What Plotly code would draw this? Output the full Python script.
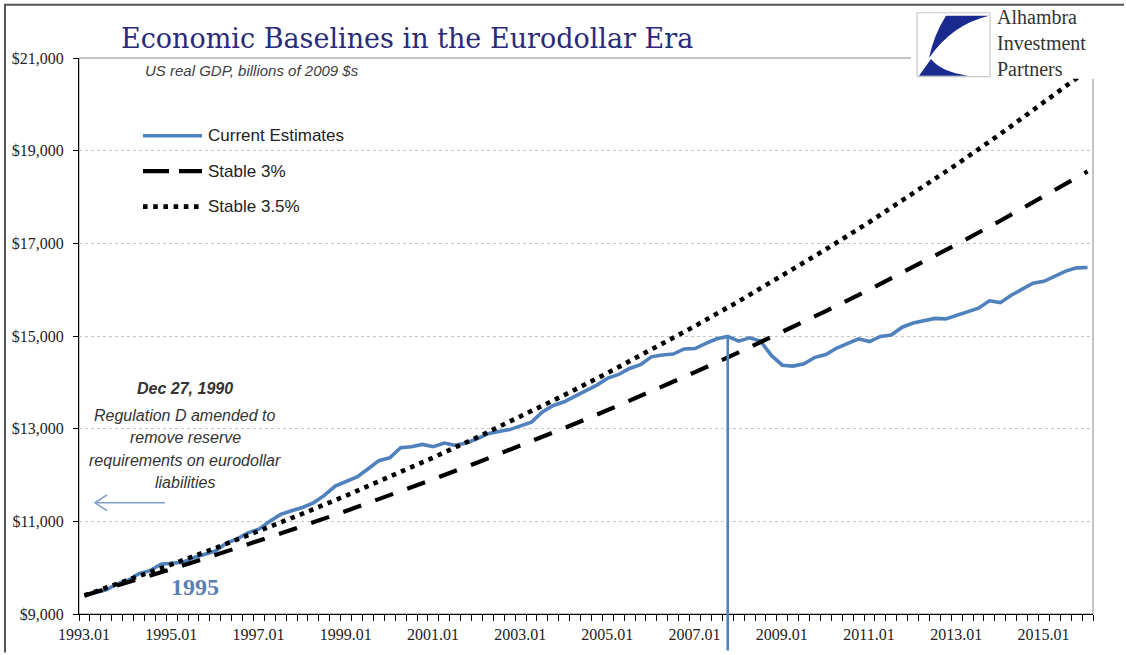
import plotly.graph_objects as go

# ---------------- data ----------------
QUARTERS = [f"{y}.{m:02d}" for y in range(1993, 2017) for m in (1, 4, 7, 10)][:93]

CURRENT_ESTIMATES = [
    9410, 9460, 9520, 9650,      # 1993
    9730, 9870, 9935, 10075,     # 1994
    10095, 10115, 10215, 10290,  # 1995
    10360, 10525, 10620, 10750,  # 1996
    10830, 11000, 11150, 11230,  # 1997
    11300, 11400, 11560, 11760,  # 1998
    11870, 11960, 12130, 12310,  # 1999
    12370, 12590, 12610, 12660,  # 2000
    12610, 12690, 12640, 12690,  # 2001
    12780, 12890, 12940, 12980,  # 2002
    13060, 13140, 13360, 13500,  # 2003
    13580, 13690, 13820, 13940,  # 2004
    14090, 14170, 14300, 14380,  # 2005
    14550, 14590, 14610, 14720,  # 2006
    14730, 14840, 14940, 14990,  # 2007
    14890, 14960, 14890, 14580,  # 2008
    14370, 14350, 14400, 14540,  # 2009
    14600, 14740, 14840, 14940,  # 2010
    14880, 14990, 15020, 15190,  # 2011
    15280, 15340, 15380, 15370,  # 2012
    15450, 15510, 15600, 15760,  # 2013
    15720, 15880, 16020, 16140,  # 2014
    16180, 16300, 16400, 16470,  # 2015
    16480,                       # 2016
]

BASELINE_QUARTERS = QUARTERS[::4]  # 1993.01 ... 2016.01
STABLE_3 = [9400, 9682, 9972, 10272, 10580, 10897, 11224, 11561, 11908, 12265,
            12633, 13012, 13402, 13804, 14219, 14645, 15085, 15537, 16003, 16483,
            16978, 17487, 18012, 18552]
STABLE_35 = [9400, 9729, 10070, 10422, 10787, 11164, 11555, 11959, 12378, 12811,
             13260, 13724, 14204, 14701, 15216, 15748, 16299, 16870, 17460, 18072,
             18704, 19359, 20036, 20737]

Y_TICKS = [9000, 11000, 13000, 15000, 17000, 19000, 21000]
Y_TICK_LABELS = ["$9,000", "$11,000", "$13,000", "$15,000", "$17,000", "$19,000", "$21,000"]
X_LABEL_EVERY = 8
MARKED_QUARTER = "2007.10"

# ---------------- layout geometry ----------------
W, H = 1126, 655
ML, MR, MT, MB = 79, 33, 58, 32
PW, PH = W - ML - MR, H - MT - MB
N = len(QUARTERS)
XR = [-0.5, N - 0.5]
YR = [9000, 21000]

BLUE = "#4F81BD"
pos = {q: i for i, q in enumerate(QUARTERS)}

# tick marks at category boundaries, labels shifted to category centres
x_tickvals = [k - 0.5 for k in range(N + 1)]
x_ticktext = [QUARTERS[k] if (k < N and k % X_LABEL_EVERY == 0) else "" for k in range(N + 1)]
half_slot = int(round(PW / N / 2))


def px(x):
    return (x - ML) / PW


def py(y):
    return (H - MB - y) / PH


fig = go.Figure()
fig.add_trace(go.Scatter(
    x=[pos[q] for q in QUARTERS], y=CURRENT_ESTIMATES, mode="lines",
    name="Current Estimates", line=dict(color=BLUE, width=3.6)))
fig.add_trace(go.Scatter(
    x=[pos[q] for q in BASELINE_QUARTERS], y=STABLE_3, mode="lines",
    name="Stable 3%", line=dict(color="black", width=4.2, dash="19px,15px")))
fig.add_trace(go.Scatter(
    x=[pos[q] for q in BASELINE_QUARTERS], y=STABLE_35, mode="lines",
    name="Stable 3.5%", line=dict(color="black", width=4.6, dash="4.6px,5.4px")))

shapes = []
annots = []

# plot-area border (top/right in gray)
shapes.append(dict(type="rect", xref="paper", yref="paper", x0=0, x1=1, y0=0, y1=1,
                   line=dict(color="#8a8a8a", width=1), layer="below"))
# outer frame (top and left edges only)
shapes.append(dict(type="path", xref="paper", yref="paper",
                   path=f"M {px(1124)},{py(4)} L {px(5)},{py(4)} L {px(5)},{py(662)}",
                   line=dict(color="#555555", width=2)))

# vertical marker line at the marked quarter
mi = pos[MARKED_QUARTER]
mx = (mi - XR[0]) / (XR[1] - XR[0])
my = (CURRENT_ESTIMATES[mi] - YR[0]) / (YR[1] - YR[0])
shapes.append(dict(type="line", xref="paper", yref="paper", x0=mx, x1=mx, y0=my, y1=py(660),
                   line=dict(color=BLUE, width=2.6)))

# manual legend
leg = [("Current Estimates", 137, dict(color=BLUE, width=3.6)),
       ("Stable 3%", 173, dict(color="black", width=4.2, dash="26px,10px")),
       ("Stable 3.5%", 209, dict(color="black", width=4.6, dash="4.6px,5.6px"))]
for label, yy, ln in leg:
    shapes.append(dict(type="line", xref="paper", yref="paper", x0=px(143), x1=px(202),
                       y0=py(yy), y1=py(yy), line=ln))
    annots.append(dict(text=label, xref="paper", yref="paper", x=px(206), y=py(yy),
                       xanchor="left", yanchor="middle", showarrow=False,
                       font=dict(family="Liberation Sans", size=17, color="#222")))

# title / subtitle
annots.append(dict(text="Economic Baselines in the Eurodollar Era", xref="paper", yref="paper",
                   x=px(119), y=py(38), xanchor="left", yanchor="middle", showarrow=False,
                   font=dict(family="DejaVu Serif", size=27, color="#2B2A78")))
annots.append(dict(text="<i>US real GDP, billions of 2009 $s</i>", xref="paper", yref="paper",
                   x=px(143), y=py(71), xanchor="left", yanchor="middle", showarrow=False,
                   font=dict(family="Liberation Sans", size=15, color="#404040")))

# regulation annotation
note_lines = [("<b><i>Dec 27, 1990</i></b>", 394),
              ("<i>Regulation D amended to</i>", 421),
              ("<i>remove reserve</i>", 444),
              ("<i>requirements on eurodollar</i>", 467),
              ("<i>liabilities</i>", 489)]
for t, yy in note_lines:
    annots.append(dict(text=t, xref="paper", yref="paper", x=px(185), y=py(yy),
                       xanchor="center", yanchor="middle", showarrow=False,
                       font=dict(family="Liberation Sans", size=16, color="#333")))

# left arrow
AR = "#7F9FCA"
shapes.append(dict(type="line", xref="paper", yref="paper", x0=px(95), x1=px(165),
                   y0=py(510), y1=py(510), line=dict(color=AR, width=1.6)))
shapes.append(dict(type="path", xref="paper", yref="paper",
                   path=f"M {px(107)},{py(502)} L {px(95)},{py(510)} L {px(107)},{py(518)}",
                   line=dict(color=AR, width=1.6)))

# 1995 label
annots.append(dict(text="<b>1995</b>", xref="paper", yref="paper", x=px(195), y=py(596),
                   xanchor="center", yanchor="middle", showarrow=False,
                   font=dict(family="Liberation Serif", size=24, color="#5B7FB3")))

# logo
shapes.append(dict(type="rect", xref="paper", yref="paper", x0=px(911), x1=px(1118),
                   y0=py(79), y1=py(7), fillcolor="white", line=dict(width=0), layer="above"))
shapes.append(dict(type="rect", xref="paper", yref="paper", x0=px(917), x1=px(990),
                   y0=py(77), y1=py(12), fillcolor="white",
                   line=dict(color="#c8c8c8", width=1.2), layer="above"))
NAVY = "#1B2A8E"


def P(a, b):
    return f"{px(a)},{py(b)}"


shapes.append(dict(type="path", xref="paper", yref="paper", layer="above",
                   path=f"M {P(946,15)} L {P(989,15)} Q {P(952,24)} {P(929,58)} Q {P(934,34)} {P(946,15)} Z",
                   fillcolor=NAVY, line=dict(width=0)))
shapes.append(dict(type="path", xref="paper", yref="paper", layer="above",
                   path=f"M {P(919,76)} L {P(931,59)} Q {P(941,72)} {P(968,76)} Z",
                   fillcolor=NAVY, line=dict(width=0)))
annots.append(dict(text="Alhambra<br>Investment<br>Partners", xref="paper", yref="paper",
                   x=px(995), y=py(43), xanchor="left", yanchor="middle", align="left",
                   showarrow=False,
                   font=dict(family="Liberation Serif", size=20, color="#333")))

fig.update_layout(
    width=W, height=H, margin=dict(l=ML, r=MR, t=MT, b=MB),
    paper_bgcolor="white", plot_bgcolor="white", showlegend=False,
    shapes=shapes, annotations=annots,
    xaxis=dict(range=XR, tickmode="array", tickvals=x_tickvals, ticktext=x_ticktext,
               ticklabelshift=half_slot, showgrid=False, zeroline=False,
               ticks="outside", ticklen=6, tickcolor="black", tickwidth=1,
               showline=True, linecolor="black", linewidth=1,
               tickfont=dict(family="Liberation Serif", size=16, color="#222")),
    yaxis=dict(range=YR, tickmode="array", tickvals=Y_TICKS, ticktext=Y_TICK_LABELS,
               showgrid=True, gridcolor="#c4c4c4", griddash="3px,3px", gridwidth=1,
               zeroline=False, ticks="outside", ticklen=5, tickcolor="black",
               ticklabelstandoff=6, showline=True, linecolor="black", linewidth=1,
               tickfont=dict(family="Liberation Serif", size=16, color="#222")),
)

fig.write_html("out.html")
